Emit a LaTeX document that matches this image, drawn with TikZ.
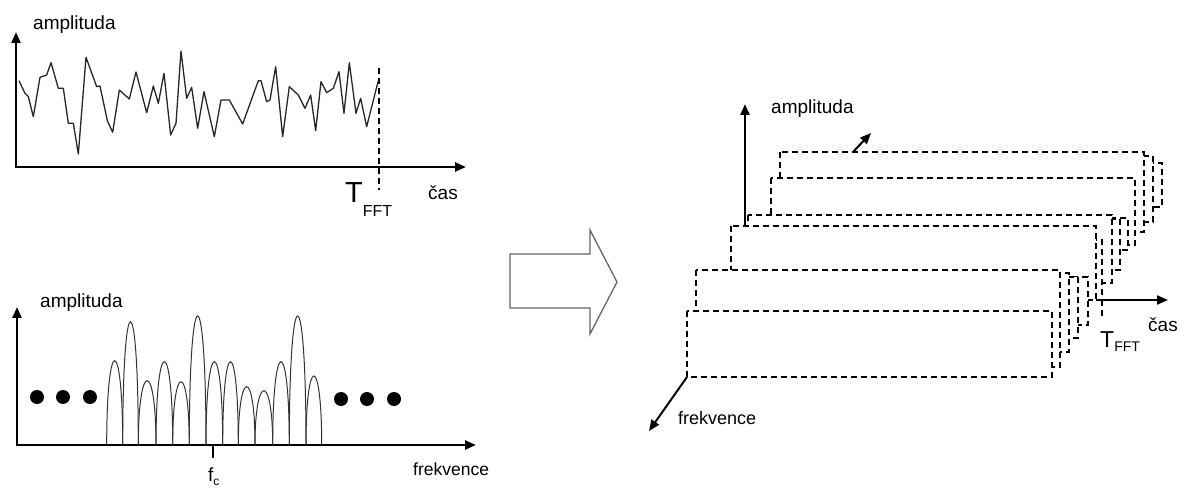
\documentclass[tikz,border=0pt]{standalone}
\usepackage{fontspec}
\setmainfont{Liberation Sans}
\usetikzlibrary{arrows.meta}
\begin{document}
\begin{tikzpicture}[x=1pt,y=-1pt,
  lbl/.style={inner sep=0pt, anchor=base west, font=\fontsize{19}{19}\selectfont},
  axisline/.style={line width=2.4pt, {Triangle[length=11pt,width=9pt]}-{Triangle[length=11pt,width=9pt]}},
  arrowline/.style={line width=2.4pt, -{Triangle[length=11pt,width=9pt]}},
  wave/.style={line width=1.3pt, black!85, line join=round},
  lobe/.style={line width=1pt, black!80},
  dotc/.style={circle, fill=black, inner sep=0pt, minimum size=14pt},
  slab/.style={draw=black, fill=white, line width=1.1pt, dash pattern=on 6pt off 4pt},
  guide/.style={line width=1.1pt, dash pattern=on 6pt off 4pt},
  bigarrow/.style={draw=black!60, line width=1.3pt, fill=white, line join=miter}
]
\useasboundingbox (0,0) rectangle (1187,489);

% ---------- top chart: signal in time ----------
\coordinate (o1) at (16,167);
\coordinate (y1) at (16,32);
\coordinate (x1) at (466,167);
\draw[axisline] (y1) -- (o1) -- (x1);
\node[lbl] (amp1) at (33,29.5) {amplituda};
\node[lbl] (cas1) at (428,200) {čas};
\node[inner sep=0pt, anchor=base west] (tfft1) at (345,203)
  {\fontsize{29}{29}\selectfont T\raisebox{-14pt}{\fontsize{16}{16}\selectfont FFT}};
\coordinate (g1a) at (379,68);
\coordinate (g1b) at (379,190);
\draw[guide] (g1a) -- (g1b);
\begin{scope}[scale=1/3]
\draw[wave] (57,242) -- (75,280) -- (85,290) -- (100,350) -- (120,232) -- (140,225) -- (153,188) -- (175,265) -- (190,265) -- (205,370) -- (220,370) -- (235,462) -- (258,172) -- (290,260) -- (300,258) -- (322,362) -- (338,397) -- (358,270) -- (388,297) -- (408,216) -- (440,338) -- (460,258) -- (475,310) -- (492,220) -- (512,405) -- (528,370) -- (543,153) -- (560,295) -- (575,262) -- (593,385) -- (612,275) -- (643,410) -- (663,300) -- (688,300) -- (728,372) -- (775,242) -- (783,242) -- (800,305) -- (810,300) -- (827,200) -- (848,410) -- (868,260) -- (895,285) -- (915,325) -- (932,285) -- (947,392) -- (963,245) -- (980,278) -- (1000,265) -- (1017,215) -- (1032,340) -- (1048,188) -- (1068,340) -- (1082,295) -- (1100,380) -- (1135,242);
\end{scope}

% ---------- bottom chart: spectrum ----------
\coordinate (o2) at (17,445);
\coordinate (y2) at (17,307);
\coordinate (x2) at (476,445);
\draw[axisline] (y2) -- (o2) -- (x2);
\node[lbl] (amp2) at (40,308) {amplituda};
\node[lbl, font=\fontsize{17.5}{17.5}\selectfont] (frek2) at (413,475) {frekvence};
\node[lbl] (fc) at (208,481) {f\raisebox{-4pt}{\fontsize{12}{12}\selectfont c}};
\coordinate (tk1) at (213,445);
\coordinate (tk2) at (213,458);
\draw[line width=1.4pt] (tk1) -- (tk2);
\foreach \a/\b/\p in {106.7/122.7/360.7, 122.7/138.3/321.7, 138.3/156/380.7, 156/172.7/361.7,
  172.7/189.3/381.7, 189.3/206/316, 206/222.7/361.7, 222.7/238.3/361.7, 238.3/255/386.7,
  255/272.7/390.7, 272.7/289.3/361.7, 289.3/306/316, 306/321.7/376}
  \draw[lobe] (\a,445) .. controls (\a,{445-(445-\p)*4/3}) and (\b,{445-(445-\p)*4/3}) .. (\b,445);
\node[dotc] (d1) at (37,397) {};
\node[dotc] (d2) at (63,397) {};
\node[dotc] (d3) at (90,397) {};
\node[dotc] (d4) at (341,399) {};
\node[dotc] (d5) at (367,399) {};
\node[dotc] (d6) at (394,399) {};

% ---------- big arrow ----------
\draw[bigarrow] (510,254) -- (590,254) -- (590,230) -- (617,282) -- (590,334) -- (590,308) -- (510,308) -- cycle;

% ---------- right: stacked spectra ----------
% group 1 (back)
\draw[slab] (798,163) rectangle (1162,207);
\draw[slab] (789,156) rectangle (1153,222);
\draw[slab] (780,152) rectangle (1144,232);
% group 2
\draw[slab] (771,178) rectangle (1135,245);
% group 3
\draw[slab] (764,218) rectangle (1128,250);
\draw[slab] (756,219) rectangle (1120,270);
\draw[slab] (748,215) rectangle (1112,283);
% group 4
\draw[slab] (737,240) rectangle (1102,300);
\draw[slab] (731,226) rectangle (1096,300);
% group 5
\draw[slab] (724,277) rectangle (1088,325);
\draw[slab] (714,277) rectangle (1078,338);
\draw[slab] (705,273) rectangle (1069,352);
\draw[slab] (696,270) rectangle (1060,367);
% group 6 (front)
\draw[slab] (687,311) rectangle (1052,377);

\coordinate (g2a) at (1102,300);
\coordinate (g2b) at (1102,318);
\draw[guide] (g2a) -- (g2b);

% axes of 3D view
\coordinate (o3) at (745,226);
\coordinate (y3) at (745,104);
\draw[arrowline] (o3) -- (y3);
\coordinate (s1) at (853,152);
\coordinate (s2) at (871,133);
\draw[arrowline, line width=2pt] (s1) -- (s2);
\coordinate (c1) at (1096,300);
\coordinate (c2) at (1168,300);
\draw[arrowline, line width=2pt] (c1) -- (c2);
\coordinate (f1) at (687,377);
\coordinate (f2) at (649,431);
\draw[arrowline, line width=2pt] (f1) -- (f2);

\node[lbl] (amp3) at (771,114) {amplituda};
\node[lbl, font=\fontsize{18}{18}\selectfont] (frek3) at (678,424) {frekvence};
\node[lbl] (cas3) at (1148,331) {čas};
\node[inner sep=0pt, anchor=base west] (tfft3) at (1100,347)
  {\fontsize{23}{23}\selectfont T\raisebox{-5pt}{\fontsize{14}{14}\selectfont FFT}};
\end{tikzpicture}
\end{document}
